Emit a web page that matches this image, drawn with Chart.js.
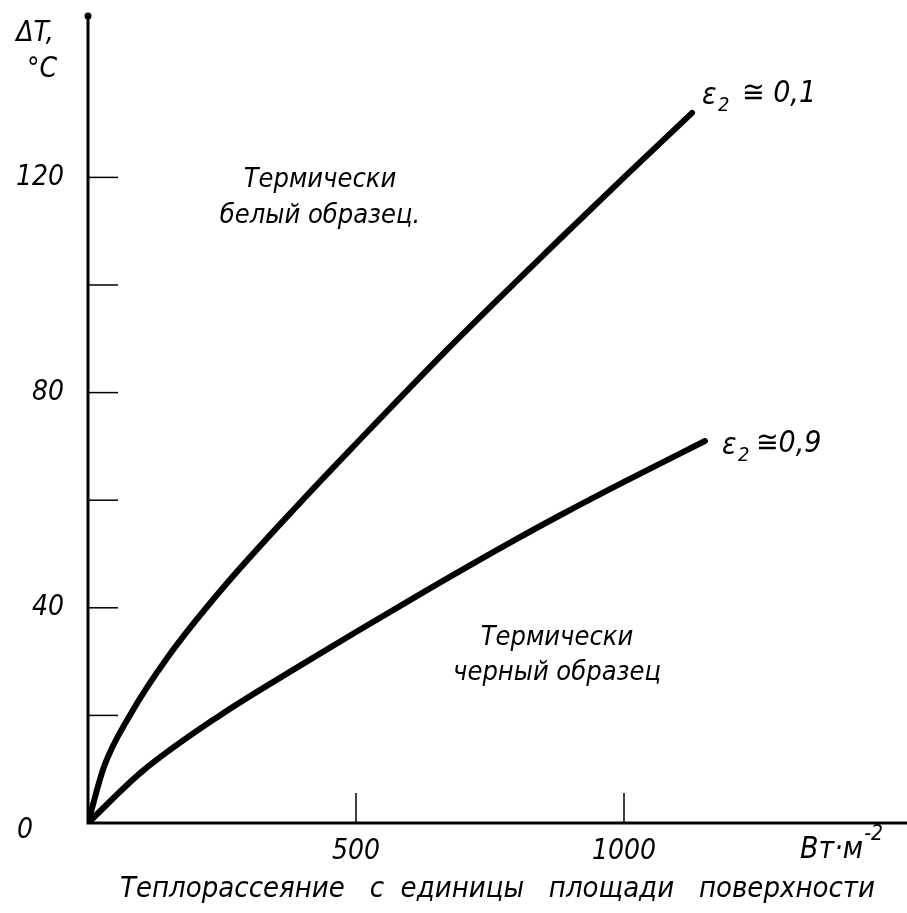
<!DOCTYPE html>
<html>
<head>
<meta charset="utf-8">
<script src="https://cdn.jsdelivr.net/npm/chart.js@4"></script>
<style>
  html, body { margin: 0; padding: 0; background: #fff; }
  #wrap { width: 907px; height: 913px; }
</style>
</head>
<body>
<div id="wrap"><canvas id="grafico"></canvas></div>
<script>
  // Данные
  const xBelyi = [0, 30, 78, 150, 250, 400, 500, 670, 880, 1000, 1127];
  const dtBelyi = [0, 10.5, 20, 31, 43.5, 60, 70.5, 88, 108.5, 120, 132];
  const xChernyi = [0, 100, 246, 405, 500, 619, 800, 881, 1000, 1151];
  const dtChernyi = [0, 9.5, 20, 29.8, 35.5, 42.5, 52.8, 57.2, 63.4, 71];
  const yMetki = [20, 40, 60, 80, 100, 120];
  const yPodpisi = [40, 80, 120];
  const xMetki = [500, 1000];

  const shrift = "'DejaVu Sans Condensed', 'Liberation Sans Narrow', 'DejaVu Sans', sans-serif";

  // Оси, метки и надписи
  const oformlenie = {
    id: 'oformlenie',
    afterDraw(chart) {
      const c = chart.ctx;
      const a = chart.chartArea;
      const sx = chart.scales.x, sy = chart.scales.y;
      const x0 = sx.getPixelForValue(0), y0 = sy.getPixelForValue(0);
      c.save();
      c.strokeStyle = '#000';
      c.fillStyle = '#000';
      // оси
      c.lineWidth = 3;
      c.beginPath();
      c.moveTo(x0, a.top);
      c.lineTo(x0, y0);
      c.lineTo(a.right, y0);
      c.stroke();
      c.beginPath();
      c.arc(x0, a.top, 3.5, 0, Math.PI * 2);
      c.fill();
      // короткие метки внутрь
      c.lineWidth = 1.5;
      yMetki.forEach(v => {
        const y = sy.getPixelForValue(v);
        c.beginPath(); c.moveTo(x0, y); c.lineTo(x0 + 30, y); c.stroke();
      });
      xMetki.forEach(v => {
        const x = sx.getPixelForValue(v);
        c.beginPath(); c.moveTo(x, y0); c.lineTo(x, y0 - 30); c.stroke();
      });
      // подписи оси X
      c.font = 'italic 28px ' + shrift;
      c.textBaseline = 'middle';
      c.textAlign = 'center';
      xMetki.forEach(v => {
        c.fillText(String(v), sx.getPixelForValue(v), y0 + 29);
      });
      c.fillText('0', 25, y0 + 8);
      c.fillText('ΔT,', 35, 34);
      c.fillText('°C', 42, 70);
      c.textAlign = 'left';
      c.font = 'italic 30px ' + shrift;
      c.fillText('Вт·м', 800, 850);
      const w = c.measureText('Вт·м').width;
      c.font = 'italic 21px ' + shrift;
      c.fillText('-2', 800 + w + 1, 835);
      c.font = 'italic 27px ' + shrift;
      c.textAlign = 'center';
      c.fillText('Термически', 320, 180);
      c.fillText('белый образец.', 320, 216);
      c.fillText('Термически', 557, 638);
      c.fillText('черный образец', 557, 673);
      // ε2
      c.textAlign = 'left';
      c.font = 'italic 30px ' + shrift;
      c.fillText('ε', 702, 96);
      c.fillText('ε', 722, 446);
      c.font = 'italic 20px ' + shrift;
      c.fillText('2', 718, 106);
      c.fillText('2', 738, 456);
      c.font = 'italic 30px ' + shrift;
      c.fillText('≅ 0,1', 742, 94);
      c.fillText('≅0,9', 756, 444);
      c.restore();
    }
  };

  const ctx = document.getElementById('grafico').getContext('2d');
  new Chart(ctx, {
    type: 'scatter',
    data: {
      datasets: [
        {
          label: 'ε2 ≅ 0,1',
          data: xBelyi.map((x, i) => ({ x: x, y: dtBelyi[i] })),
          showLine: true,
          borderColor: '#000',
          borderWidth: 6,
          pointRadius: 0,
          cubicInterpolationMode: 'monotone',
          borderCapStyle: 'round'
        },
        {
          label: 'ε2 ≅ 0,9',
          data: xChernyi.map((x, i) => ({ x: x, y: dtChernyi[i] })),
          showLine: true,
          borderColor: '#000',
          borderWidth: 6,
          pointRadius: 0,
          cubicInterpolationMode: 'monotone',
          borderCapStyle: 'round'
        }
      ]
    },
    options: {
      responsive: true,
      maintainAspectRatio: false,
      animation: false,
      layout: { padding: { top: 16, right: 0, left: 0, bottom: 0 } },
      plugins: {
        legend: { display: false },
        tooltip: { enabled: false }
      },
      scales: {
        x: {
          type: 'linear',
          min: 0,
          max: 1528,
          afterFit(s) { s.height = 90; s.paddingLeft = 0; s.paddingRight = 0; },
          grid: { display: false, drawTicks: false },
          border: { display: false },
          ticks: { display: false, stepSize: 500 },
          title: {
            display: true,
            text: 'Теплорассеяние   с  единицы   площади   поверхности',
            color: '#000',
            font: { family: shrift, size: 29, style: 'italic' },
            padding: { top: 0, bottom: 6 }
          }
        },
        y: {
          type: 'linear',
          min: 0,
          max: 150,
          afterFit(s) { s.width = 88; s.paddingTop = 0; s.paddingBottom = 0; },
          grid: { display: false, drawTicks: false },
          border: { display: false },
          ticks: {
            stepSize: 20,
            padding: 24,
            color: '#000',
            font: { family: shrift, size: 28, style: 'italic' },
            callback: v => yPodpisi.includes(v) ? String(v) : ''
          }
        }
      }
    },
    plugins: [oformlenie]
  });
</script>
</body>
</html>
